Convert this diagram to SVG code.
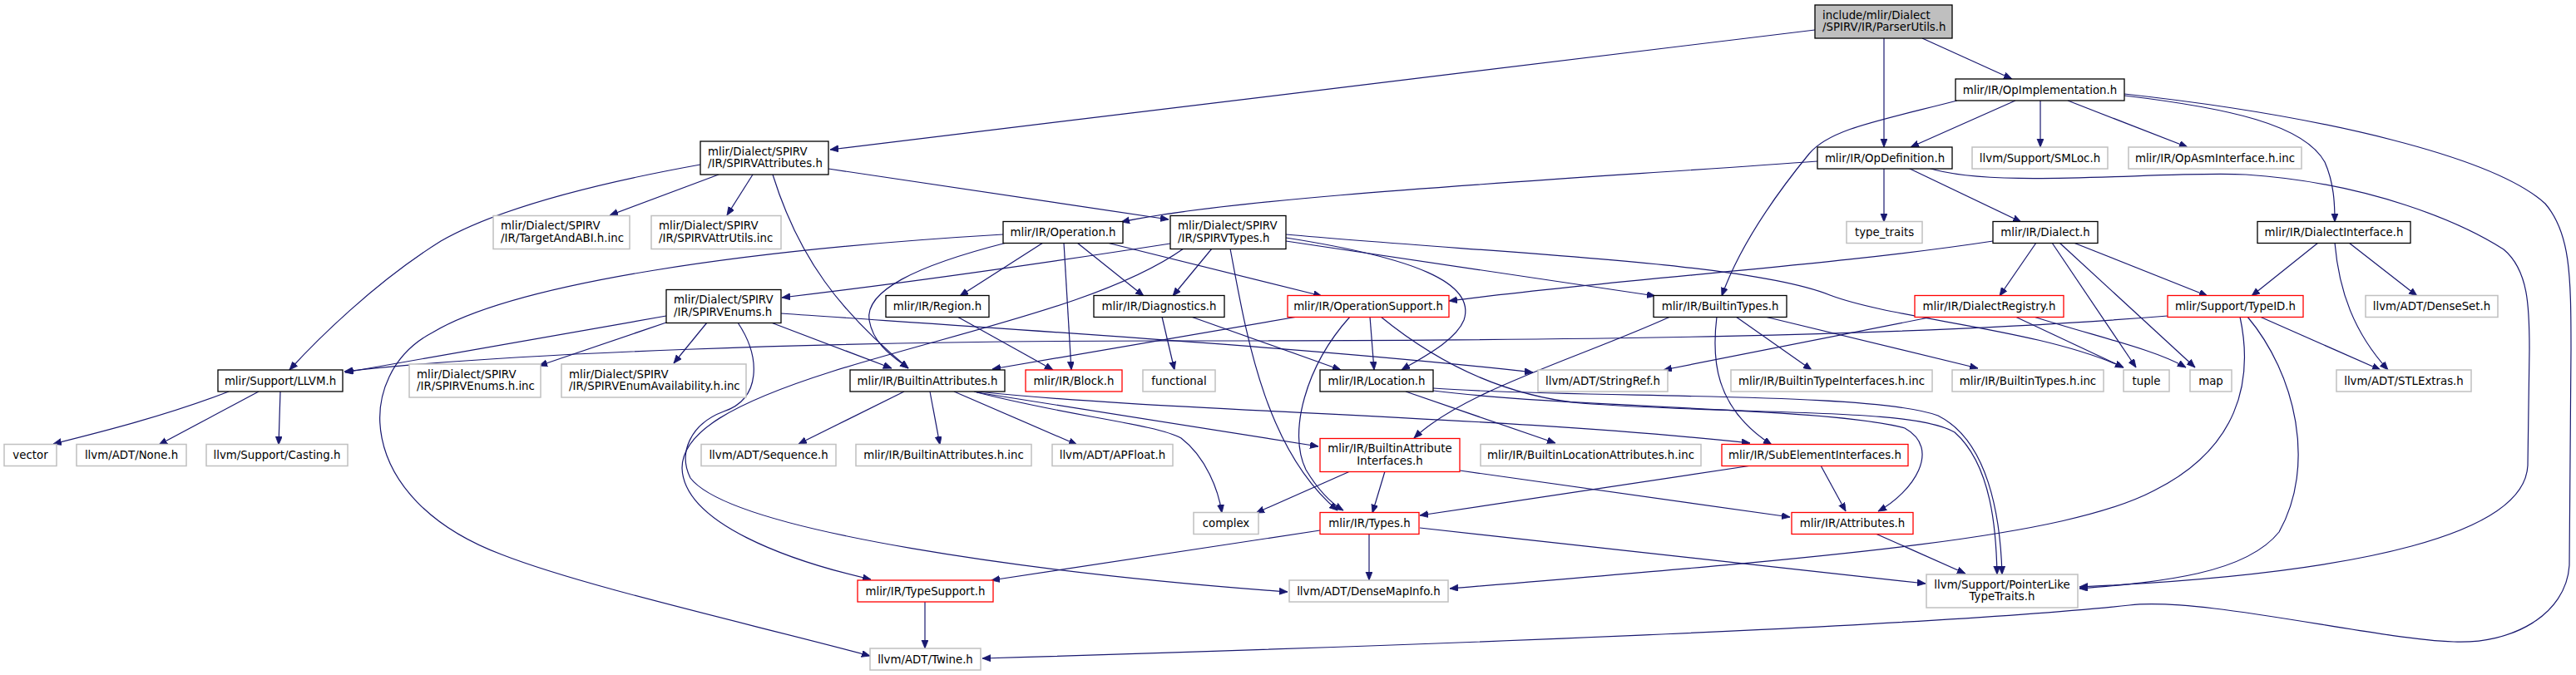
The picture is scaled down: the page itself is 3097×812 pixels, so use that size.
<svg xmlns="http://www.w3.org/2000/svg" width="3097" height="812" viewBox="0 0 3097 812">
<defs>
<marker id="a" markerUnits="userSpaceOnUse" markerWidth="11" markerHeight="9" refX="10" refY="4" orient="auto">
<path d="M0,0 L10,4 L0,8 z" fill="#191970" stroke="#191970" stroke-width="0.8"/>
</marker>
</defs>
<style>
rect{fill:#fff;stroke:#000;stroke-width:1.3}
.g rect{stroke:#c0c0c0;stroke-width:1.5}
.r rect{stroke:#ff0000}
.root rect{fill:#bfbfbf}
text{font-family:"DejaVu Sans",sans-serif;font-size:13.33px;fill:#000}
.c{text-anchor:middle}
.e path{fill:none;stroke:#191970;stroke-width:1.2;marker-end:url(#a)}
</style>
<rect x="0" y="0" width="3097" height="812" style="fill:#fff;stroke:none"/>
<g id="edges" class="e">
<path d="M2182,36 L998,180"/>
<path d="M2265,46 L2265,177"/>
<path d="M2311,46 L2419,95"/>
<path d="M2423,121 L2297,177"/>
<path d="M2453,121 L2453,177"/>
<path d="M2486,121 L2630,177"/>
<path d="M2353,121 C2260,145 2200,155 2175,185 C2130,240 2090,300 2070,356"/>
<path d="M2554,115 C2680,130 2770,150 2795,195 C2806,220 2807,245 2807,267"/>
<path d="M2554,113 C2800,140 3000,190 3060,245 C3090,280 3091,330 3091,420 L3089,680 C3085,740 3020,775 2950,772 C2850,768 2650,718 2560,728 C2400,745 2000,768 1181,792"/>
<path d="M2185,194 C1900,215 1500,235 1348,267"/>
<path d="M2265,202 L2265,267"/>
<path d="M2294,202 L2430,267"/>
<path d="M2318,202 C2400,228 2600,205 2700,210 C2850,220 2960,268 3010,300 C3040,325 3041,370 3041,420 L3039,560 C3035,640 2850,690 2500,706"/>
<path d="M864,210 L733,259"/>
<path d="M905,210 L874,259"/>
<path d="M842,198 C720,220 600,250 530,290 C450,340 380,410 348,445"/>
<path d="M929,210 C960,310 1010,375 1092,443"/>
<path d="M996,203 L1405,264"/>
<path d="M1407,293 C1200,325 1050,345 940,358"/>
<path d="M1423,299 C1330,365 1150,400 1000,447 C880,485 820,520 820,563 C822,630 950,675 1047,697"/>
<path d="M1457,299 L1410,356"/>
<path d="M1479,299 C1498,400 1520,540 1608,614"/>
<path d="M1546,282 C1800,305 2100,315 2200,355 C2280,385 2450,395 2553,442"/>
<path d="M1546,286 C1700,310 1775,340 1760,385 C1750,410 1710,430 1685,445"/>
<path d="M1546,290 L1990,356"/>
<path d="M1206,282 C900,300 620,340 520,400 C425,450 425,600 603,667 C700,705 900,750 1046,789"/>
<path d="M1210,292 C1100,320 1040,350 1045,385 C1050,415 1075,430 1092,443"/>
<path d="M1254,292 L1154,356"/>
<path d="M1279,292 L1288,445"/>
<path d="M1295,292 L1375,356"/>
<path d="M1331,292 L1589,356"/>
<path d="M1151,381 L1266,445"/>
<path d="M1397,381 L1412,445"/>
<path d="M1432,381 L1612,445"/>
<path d="M1560,381 L1193,444"/>
<path d="M1623,381 C1570,440 1548,520 1570,565 C1585,590 1600,605 1615,614"/>
<path d="M1647,381 L1652,445"/>
<path d="M1660,381 C1720,430 1800,475 1900,485 C2100,500 2300,490 2350,520 C2395,560 2400,640 2401,691"/>
<path d="M1087,471 L960,534"/>
<path d="M1118,471 L1130,535"/>
<path d="M1147,471 L1295,535"/>
<path d="M1171,471 C1280,500 1390,510 1420,527 C1450,550 1465,590 1469,617"/>
<path d="M1174,472 L1585,537"/>
<path d="M1175,471 C1400,495 1800,500 2104,533"/>
<path d="M1623,567 L1510,617"/>
<path d="M1665,567 L1650,617"/>
<path d="M1755,566 L2152,622"/>
<path d="M2064,381 C2058,430 2060,490 2130,535"/>
<path d="M2087,381 L2178,445"/>
<path d="M2122,381 L2378,443"/>
<path d="M2008,381 C1900,430 1760,470 1700,527"/>
<path d="M2396,290 C2200,320 1950,335 1742,362"/>
<path d="M2448,292 L2404,356"/>
<path d="M2467,292 L2568,442"/>
<path d="M2476,292 L2639,442"/>
<path d="M2493,292 L2654,356"/>
<path d="M2787,292 L2707,356"/>
<path d="M2824,292 L2906,356"/>
<path d="M2807,292 C2812,350 2830,400 2871,445"/>
<path d="M2324,381 L2000,445"/>
<path d="M2423,381 L2553,442"/>
<path d="M2445,381 C2520,405 2590,420 2628,442"/>
<path d="M2606,380 C2300,405 1900,410 1400,410 C1000,410 600,425 414,447"/>
<path d="M2693,381 C2710,460 2690,540 2590,590 C2480,648 2200,670 1743,708"/>
<path d="M2702,381 C2760,450 2785,560 2740,640 C2700,690 2600,700 2500,708"/>
<path d="M2717,381 L2862,445"/>
<path d="M801,380 L415,448"/>
<path d="M801,388 L648,440"/>
<path d="M850,388 L810,437"/>
<path d="M887,388 C915,430 915,480 870,495 C830,510 815,545 830,575 C880,640 1250,690 1548,712"/>
<path d="M927,388 L1072,443"/>
<path d="M939,377 C1200,395 1600,420 1843,448"/>
<path d="M1723,470 C1900,492 2200,490 2290,515 C2335,540 2300,592 2258,615"/>
<path d="M1723,467 C1900,480 2250,470 2330,500 C2390,530 2405,620 2407,691"/>
<path d="M1690,471 L1870,533"/>
<path d="M2106,560 L1707,620"/>
<path d="M2189,560 L2219,615"/>
<path d="M2255,642 L2363,690"/>
<path d="M1587,638 L1192,698"/>
<path d="M1646,642 L1646,698"/>
<path d="M1707,635 L2315,702"/>
<path d="M1112,724 L1112,780"/>
<path d="M275,471 C200,500 120,520 64,534"/>
<path d="M311,471 L191,535"/>
<path d="M337,471 L335,535"/>
</g>
<g id="n_root" class="root"><rect x="2182" y="6" width="165" height="40"/><text x="2191" y="22.5">include/mlir/Dialect</text><text x="2191" y="37">/SPIRV/IR/ParserUtils.h</text></g>
<g id="n_opimpl"><rect x="2351" y="95" width="203" height="26"/><text class="c" x="2452.5" y="112.5">mlir/IR/OpImplementation.h</text></g>
<g id="n_opdef"><rect x="2185" y="177" width="162" height="26"/><text class="c" x="2266" y="194.5">mlir/IR/OpDefinition.h</text></g>
<g id="n_smloc" class="g"><rect x="2371" y="177" width="163" height="26"/><text class="c" x="2452.5" y="194.5">llvm/Support/SMLoc.h</text></g>
<g id="n_opasm" class="g"><rect x="2559" y="177" width="208" height="26"/><text class="c" x="2663" y="194.5">mlir/IR/OpAsmInterface.h.inc</text></g>
<g id="n_spirvattr"><rect x="842" y="170" width="154" height="40"/><text x="851" y="186.5">mlir/Dialect/SPIRV</text><text x="851" y="201">/IR/SPIRVAttributes.h</text></g>
<g id="n_target" class="g"><rect x="593" y="259.5" width="164" height="40"/><text x="602" y="276">mlir/Dialect/SPIRV</text><text x="602" y="290.5">/IR/TargetAndABI.h.inc</text></g>
<g id="n_attrutils" class="g"><rect x="783" y="259.5" width="156" height="40"/><text x="792" y="276">mlir/Dialect/SPIRV</text><text x="792" y="290.5">/IR/SPIRVAttrUtils.inc</text></g>
<g id="n_operation"><rect x="1206" y="266.5" width="144" height="26"/><text class="c" x="1278" y="284">mlir/IR/Operation.h</text></g>
<g id="n_spirvtypes"><rect x="1407" y="259.5" width="139" height="40"/><text x="1416" y="276">mlir/Dialect/SPIRV</text><text x="1416" y="290.5">/IR/SPIRVTypes.h</text></g>
<g id="n_typetraits" class="g"><rect x="2220" y="266.5" width="91" height="26"/><text class="c" x="2265.5" y="284">type_traits</text></g>
<g id="n_dialect"><rect x="2396" y="266.5" width="126" height="26"/><text class="c" x="2459" y="284">mlir/IR/Dialect.h</text></g>
<g id="n_dialectiface"><rect x="2714" y="266.5" width="184" height="26"/><text class="c" x="2806" y="284">mlir/IR/DialectInterface.h</text></g>
<g id="n_spirvenums"><rect x="801" y="348.5" width="138" height="40"/><text x="810" y="365">mlir/Dialect/SPIRV</text><text x="810" y="379.5">/IR/SPIRVEnums.h</text></g>
<g id="n_region"><rect x="1065" y="355.5" width="124" height="26"/><text class="c" x="1127" y="373">mlir/IR/Region.h</text></g>
<g id="n_diag"><rect x="1315" y="355.5" width="157" height="26"/><text class="c" x="1393.5" y="373">mlir/IR/Diagnostics.h</text></g>
<g id="n_opsupport" class="r"><rect x="1548" y="355.5" width="194" height="26"/><text class="c" x="1645" y="373">mlir/IR/OperationSupport.h</text></g>
<g id="n_builtintypes"><rect x="1988" y="355.5" width="160" height="26"/><text class="c" x="2068" y="373">mlir/IR/BuiltinTypes.h</text></g>
<g id="n_dialectreg" class="r"><rect x="2302" y="355.5" width="179" height="26"/><text class="c" x="2391.5" y="373">mlir/IR/DialectRegistry.h</text></g>
<g id="n_typeid" class="r"><rect x="2606" y="355.5" width="163" height="26"/><text class="c" x="2687.5" y="373">mlir/Support/TypeID.h</text></g>
<g id="n_denseset" class="g"><rect x="2844" y="355.5" width="159" height="26"/><text class="c" x="2923.5" y="373">llvm/ADT/DenseSet.h</text></g>
<g id="n_llvm"><rect x="262" y="445" width="150" height="26"/><text class="c" x="337" y="462.5">mlir/Support/LLVM.h</text></g>
<g id="n_enumsinc" class="g"><rect x="492" y="438" width="158" height="40"/><text x="501" y="454.5">mlir/Dialect/SPIRV</text><text x="501" y="469">/IR/SPIRVEnums.h.inc</text></g>
<g id="n_enumavail" class="g"><rect x="675" y="438" width="222" height="40"/><text x="684" y="454.5">mlir/Dialect/SPIRV</text><text x="684" y="469">/IR/SPIRVEnumAvailability.h.inc</text></g>
<g id="n_builtinattrs"><rect x="1022" y="445" width="186" height="26"/><text class="c" x="1115" y="462.5">mlir/IR/BuiltinAttributes.h</text></g>
<g id="n_block" class="r"><rect x="1233" y="445" width="116" height="26"/><text class="c" x="1291" y="462.5">mlir/IR/Block.h</text></g>
<g id="n_functional" class="g"><rect x="1374" y="445" width="87" height="26"/><text class="c" x="1417.5" y="462.5">functional</text></g>
<g id="n_location"><rect x="1587" y="445" width="136" height="26"/><text class="c" x="1655" y="462.5">mlir/IR/Location.h</text></g>
<g id="n_stringref" class="g"><rect x="1849" y="445" width="156" height="26"/><text class="c" x="1927" y="462.5">llvm/ADT/StringRef.h</text></g>
<g id="n_btifaceinc" class="g"><rect x="2081" y="445" width="242" height="26"/><text class="c" x="2202" y="462.5">mlir/IR/BuiltinTypeInterfaces.h.inc</text></g>
<g id="n_btinc" class="g"><rect x="2347" y="445" width="182" height="26"/><text class="c" x="2438" y="462.5">mlir/IR/BuiltinTypes.h.inc</text></g>
<g id="n_tuple" class="g"><rect x="2553" y="445" width="55" height="26"/><text class="c" x="2580.5" y="462.5">tuple</text></g>
<g id="n_map" class="g"><rect x="2633" y="445" width="50" height="26"/><text class="c" x="2658" y="462.5">map</text></g>
<g id="n_stlextras" class="g"><rect x="2809" y="445" width="162" height="26"/><text class="c" x="2890" y="462.5">llvm/ADT/STLExtras.h</text></g>
<g id="n_vector" class="g"><rect x="5" y="534.5" width="63" height="26"/><text class="c" x="36.5" y="552">vector</text></g>
<g id="n_none" class="g"><rect x="92" y="534.5" width="132" height="26"/><text class="c" x="158" y="552">llvm/ADT/None.h</text></g>
<g id="n_casting" class="g"><rect x="248" y="534.5" width="170" height="26"/><text class="c" x="333" y="552">llvm/Support/Casting.h</text></g>
<g id="n_sequence" class="g"><rect x="843" y="534.5" width="162" height="26"/><text class="c" x="924" y="552">llvm/ADT/Sequence.h</text></g>
<g id="n_baincl" class="g"><rect x="1029" y="534.5" width="211" height="26"/><text class="c" x="1134.5" y="552">mlir/IR/BuiltinAttributes.h.inc</text></g>
<g id="n_apfloat" class="g"><rect x="1265" y="534.5" width="145" height="26"/><text class="c" x="1337.5" y="552">llvm/ADT/APFloat.h</text></g>
<g id="n_baiface" class="r"><rect x="1587" y="527.5" width="168" height="40"/><text class="c" x="1671" y="544">mlir/IR/BuiltinAttribute</text><text class="c" x="1671" y="558.5">Interfaces.h</text></g>
<g id="n_blocinc" class="g"><rect x="1780" y="534.5" width="265" height="26"/><text class="c" x="1912.5" y="552">mlir/IR/BuiltinLocationAttributes.h.inc</text></g>
<g id="n_subelem" class="r"><rect x="2070" y="534.5" width="224" height="26"/><text class="c" x="2182" y="552">mlir/IR/SubElementInterfaces.h</text></g>
<g id="n_complex" class="g"><rect x="1435" y="616.5" width="78" height="26"/><text class="c" x="1474" y="634">complex</text></g>
<g id="n_types" class="r"><rect x="1587" y="616.5" width="119" height="26"/><text class="c" x="1646.5" y="634">mlir/IR/Types.h</text></g>
<g id="n_attributes" class="r"><rect x="2154" y="616.5" width="146" height="26"/><text class="c" x="2227" y="634">mlir/IR/Attributes.h</text></g>
<g id="n_typesupport" class="r"><rect x="1031" y="698" width="163" height="26"/><text class="c" x="1112.5" y="715.5">mlir/IR/TypeSupport.h</text></g>
<g id="n_densemapinfo" class="g"><rect x="1550" y="698" width="191" height="26"/><text class="c" x="1645.5" y="715.5">llvm/ADT/DenseMapInfo.h</text></g>
<g id="n_pointerlike" class="g"><rect x="2316" y="691" width="182" height="40"/><text class="c" x="2407" y="707.5">llvm/Support/PointerLike</text><text class="c" x="2407" y="722">TypeTraits.h</text></g>
<g id="n_twine" class="g"><rect x="1046" y="780" width="133" height="26"/><text class="c" x="1112.5" y="797.5">llvm/ADT/Twine.h</text></g>
</svg>
